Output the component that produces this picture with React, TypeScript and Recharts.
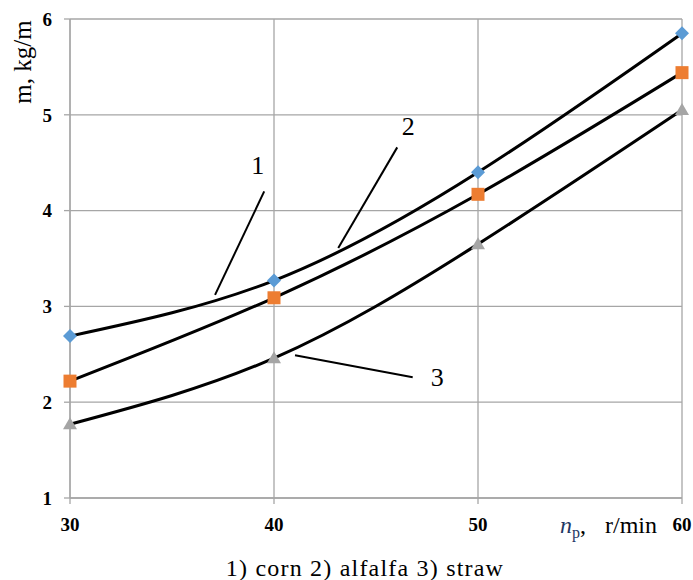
import React from 'react';
import { LineChart, Line, XAxis, YAxis, CartesianGrid, ReferenceLine, ReferenceDot, Label } from 'recharts';

const speeds = [30, 40, 50, 60];
const corn = [2.69, 3.27, 4.4, 5.85];
const alfalfa = [2.22, 3.09, 4.17, 5.44];
const straw = [1.77, 2.46, 3.65, 5.05];
const xTicks = [30, 40, 50, 60];
const yTicks = [1, 2, 3, 4, 5, 6];
const calloutNames = ['1', '2', '3'];
const calloutTextX = [39.2, 46.58, 48.0];
const calloutTextY = [4.48, 4.89, 2.27];
const calloutFromX = [39.52, 46.04, 46.8];
const calloutFromY = [4.2, 4.66, 2.26];
const calloutToX = [37.11, 43.15, 41.03];
const calloutToY = [3.12, 3.61, 2.49];
const caption = '1) corn 2) alfalfa 3) straw';
const yTitle = 'm, kg/m';

const data = speeds.map((s, i) => ({ x: s, corn: corn[i], alfalfa: alfalfa[i], straw: straw[i] }));

const FONT = "'Liberation Serif', 'Times New Roman', serif";
const GRID = '#a6a6a6';

const Diamond = (p: any) => {
  const { cx, cy } = p;
  if (cx == null || cy == null) return null;
  const r = 7;
  return <path key={`d${p.index}`} d={`M${cx},${cy - r} L${cx + r},${cy} L${cx},${cy + r} L${cx - r},${cy} Z`} fill="#5b9bd5" />;
};
const Square = (p: any) => {
  const { cx, cy } = p;
  if (cx == null || cy == null) return null;
  const r = 6.5;
  return <rect key={`s${p.index}`} x={cx - r} y={cy - r} width={2 * r} height={2 * r} fill="#ed7d31" />;
};
const Triangle = (p: any) => {
  const { cx, cy } = p;
  if (cx == null || cy == null) return null;
  return <path key={`t${p.index}`} d={`M${cx},${cy - 7} L${cx + 7},${cy + 5} L${cx - 7},${cy + 5} Z`} fill="#a5a5a5" />;
};

const YTitle = (props: any) => {
  const vb = props.viewBox || { x: 0, y: 0 };
  const cx = 22;
  const cy = vb.y + 43;
  return (
    <text x={cx} y={cy} transform={`rotate(-90, ${cx}, ${cy})`} textAnchor="middle" dominantBaseline="central"
      style={{ fontFamily: FONT, fontSize: 25 }} fill="#000">{yTitle}</text>
  );
};

const XTitle = (props: any) => {
  const vb = props.viewBox || { x: 0, y: 0, width: 0 };
  return (
    <g>
      <text x={vb.x + 490} y={vb.y + 35} style={{ fontFamily: FONT, fontSize: 24 }} fill="#000">
        <tspan fontStyle="italic" fill="#1f3864">n</tspan>
        <tspan dy={5} fill="#1f3864" style={{ fontSize: 16 }}>p</tspan>
        <tspan dy={-5}>,</tspan>
        <tspan x={vb.x + 535}>r/min</tspan>
      </text>
      <text x={vb.x + 295} y={vb.y + 78} textAnchor="middle" style={{ fontFamily: FONT, fontSize: 24, letterSpacing: 1.2 }} fill="#000">{caption}</text>
    </g>
  );
};

export default function App() {
  return (
    <div style={{ position: 'absolute', left: 0, top: 0, width: 693, height: 580, overflow: 'hidden' }}>
      <LineChart width={693} height={580} data={data} margin={{ top: 19, right: 11, bottom: 0, left: 0 }}
        style={{ fontFamily: FONT, display: 'block' }}>
        <CartesianGrid stroke={GRID} strokeWidth={1.3} />
        <XAxis type="number" dataKey="x" domain={[30, 60]} ticks={xTicks} interval={0}
          stroke={GRID} strokeWidth={1.3} tickSize={6} tickMargin={14} height={82}
          tick={{ fontSize: 19, fontWeight: 'bold', fill: '#000', fontFamily: FONT }}>
          <Label content={XTitle} />
        </XAxis>
        <YAxis type="number" domain={[1, 6]} ticks={yTicks} interval={0} width={70}
          stroke={GRID} strokeWidth={1.3} tickSize={6} tickMargin={12}
          tick={{ fontSize: 19, fontWeight: 'bold', fill: '#000', fontFamily: FONT }}>
          <Label content={YTitle} />
        </YAxis>
        <Line dataKey="corn" type="natural" stroke="#000" strokeWidth={3} dot={Diamond} activeDot={false} isAnimationActive={false} />
        <Line dataKey="alfalfa" type="natural" stroke="#000" strokeWidth={3} dot={Square} activeDot={false} isAnimationActive={false} />
        <Line dataKey="straw" type="natural" stroke="#000" strokeWidth={3} dot={Triangle} activeDot={false} isAnimationActive={false} />
        {calloutNames.map((n, i) => (
          <ReferenceLine key={`l${n}`} segment={[{ x: calloutFromX[i], y: calloutFromY[i] }, { x: calloutToX[i], y: calloutToY[i] }]}
            stroke="#000" strokeWidth={2} ifOverflow="visible" />
        ))}
        {calloutNames.map((n, i) => (
          <ReferenceDot key={`t${n}`} x={calloutTextX[i]} y={calloutTextY[i]} r={0} fill="none" stroke="none" ifOverflow="visible"
            label={{ value: n, position: 'center', fontSize: 26, fill: '#000', fontFamily: FONT }} />
        ))}
      </LineChart>
    </div>
  );
}
